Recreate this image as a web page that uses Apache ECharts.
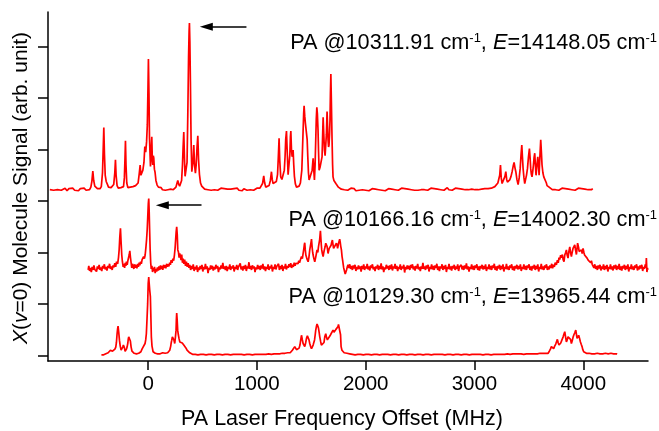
<!DOCTYPE html>
<html>
<head>
<meta charset="utf-8">
<script src="https://cdn.jsdelivr.net/npm/echarts@6/dist/echarts.min.js"></script>
<style>html,body{margin:0;padding:0;background:#fff}#c{width:659px;height:431px}</style>
</head>
<body>
<div id="c"></div>
<script>
// ---- Data (x: MHz offset, y: signal in arb. units incl. vertical offset) ----
const X_TICKS = [0, 1000, 2000, 3000, 4000];
const Y_TICKS = [0, 1, 2, 3, 4, 5, 6];
const PA_WAVENUMBERS = ['10311.91', '10166.16', '10129.30'];
const E_VALUES = ['14148.05', '14002.30', '13965.44'];
const X_NAME = 'PA Laser Frequency Offset (MHz)';
const Y_NAME = '{i|X}({i|v}=0) Molecule Signal (arb. unit)';
// arrows: [tailX, headX, y]
const ARROW_TOP = [904, 535, 6.39];
const ARROW_MID = [491, 131, 2.92];

const TOP = [[-903,3.22],[-885,3.25],[-868,3.21],[-850,3.24],[-833,3.22],[-815,3.25],[-798,3.21],[-780,3.23],[-763,3.25],[-745,3.20],[-728,3.24],[-710,3.22],[-693,3.25],[-675,3.21],[-658,3.23],[-640,3.20],[-623,3.24],[-605,3.22],[-588,3.25],[-570,3.21],[-553,3.24],[-538,3.22],[-526,3.27],[-517,3.38],[-508,3.58],[-500,3.40],[-490,3.29],[-478,3.27],[-466,3.24],[-454,3.26],[-442,3.24],[-430,3.28],[-419,3.55],[-412,4.05],[-407,4.43],[-401,3.90],[-394,3.50],[-385,3.38],[-375,3.33],[-364,3.27],[-352,3.24],[-340,3.26],[-328,3.24],[-316,3.32],[-306,3.55],[-300,3.80],[-294,3.50],[-285,3.30],[-274,3.25],[-262,3.23],[-250,3.26],[-238,3.24],[-226,3.28],[-218,3.45],[-212,3.85],[-208,4.17],[-203,3.70],[-196,3.35],[-186,3.26],[-175,3.25],[-163,3.27],[-151,3.25],[-139,3.28],[-127,3.27],[-115,3.30],[-103,3.29],[-92,3.35],[-82,3.52],[-73,3.70],[-66,3.50],[-58,3.48],[-48,3.60],[-38,3.75],[-30,4.06],[-22,3.95],[-14,4.15],[-7,4.48],[-1,5.20],[3,5.76],[8,5.10],[13,4.22],[18,3.90],[22,3.67],[28,3.95],[34,4.25],[39,3.80],[43,3.70],[48,3.88],[52,3.84],[58,3.62],[64,3.56],[72,3.40],[83,3.31],[95,3.27],[108,3.24],[120,3.26],[132,3.22],[145,3.25],[158,3.21],[170,3.24],[182,3.22],[195,3.25],[208,3.23],[220,3.24],[232,3.22],[244,3.25],[256,3.27],[265,3.34],[273,3.40],[281,3.33],[290,3.29],[299,3.31],[308,3.40],[316,3.70],[322,4.05],[328,4.34],[334,3.85],[340,3.48],[350,3.45],[358,3.75],[365,4.67],[372,5.80],[377,6.30],[380,6.46],[384,6.10],[389,5.32],[395,4.20],[402,3.57],[408,3.55],[414,3.80],[420,4.09],[427,3.70],[435,3.54],[442,3.70],[450,4.05],[457,4.27],[464,3.80],[472,3.52],[482,3.35],[493,3.29],[505,3.26],[520,3.23],[535,3.25],[550,3.22],[565,3.24],[580,3.21],[595,3.24],[610,3.22],[625,3.25],[640,3.21],[655,3.23],[670,3.25],[685,3.22],[700,3.24],[715,3.21],[730,3.23],[745,3.20],[760,3.23],[775,3.21],[790,3.24],[805,3.22],[820,3.25],[835,3.21],[850,3.23],[865,3.20],[880,3.24],[895,3.22],[910,3.21],[925,3.24],[940,3.22],[955,3.25],[970,3.21],[985,3.23],[1000,3.25],[1015,3.22],[1028,3.25],[1041,3.27],[1052,3.34],[1063,3.49],[1071,3.36],[1081,3.27],[1095,3.28],[1112,3.30],[1124,3.40],[1134,3.57],[1141,3.42],[1149,3.34],[1165,3.33],[1179,3.38],[1190,3.52],[1197,3.85],[1204,4.22],[1210,3.80],[1219,3.47],[1230,3.42],[1241,3.44],[1252,3.60],[1259,3.86],[1265,4.20],[1272,4.36],[1279,3.95],[1287,3.51],[1296,3.48],[1303,3.90],[1308,4.25],[1312,4.36],[1318,4.00],[1324,3.86],[1333,3.99],[1339,3.70],[1345,3.48],[1354,3.33],[1364,3.27],[1376,3.26],[1388,3.29],[1400,3.35],[1413,3.60],[1420,4.05],[1425,4.38],[1430,4.70],[1434,4.85],[1440,4.65],[1446,4.51],[1451,4.48],[1456,4.54],[1462,4.20],[1468,3.86],[1474,3.55],[1480,3.41],[1490,3.40],[1498,3.44],[1508,3.60],[1517,3.83],[1523,3.60],[1529,3.41],[1535,3.70],[1541,4.19],[1546,4.60],[1551,4.82],[1556,4.70],[1562,4.38],[1567,3.95],[1572,3.60],[1580,3.65],[1590,3.76],[1599,3.86],[1604,4.25],[1609,4.63],[1615,4.30],[1621,3.99],[1627,3.88],[1633,3.86],[1639,4.30],[1645,4.74],[1650,4.45],[1654,4.19],[1659,4.05],[1663,4.09],[1668,4.30],[1672,4.58],[1676,5.10],[1680,5.47],[1685,4.90],[1691,4.19],[1696,3.70],[1700,3.47],[1708,3.40],[1715,3.38],[1726,3.34],[1737,3.31],[1749,3.27],[1761,3.25],[1776,3.23],[1791,3.25],[1805,3.22],[1820,3.24],[1835,3.21],[1850,3.23],[1865,3.25],[1880,3.22],[1895,3.24],[1910,3.20],[1925,3.23],[1940,3.21],[1955,3.24],[1970,3.22],[1985,3.25],[2000,3.21],[2015,3.23],[2030,3.20],[2045,3.22],[2060,3.24],[2075,3.21],[2090,3.23],[2105,3.20],[2120,3.22],[2135,3.24],[2150,3.21],[2165,3.23],[2180,3.20],[2195,3.22],[2210,3.24],[2225,3.21],[2240,3.23],[2255,3.25],[2270,3.22],[2285,3.24],[2300,3.21],[2315,3.23],[2330,3.25],[2345,3.22],[2360,3.24],[2375,3.21],[2390,3.23],[2405,3.25],[2420,3.22],[2435,3.24],[2450,3.21],[2465,3.23],[2480,3.21],[2495,3.24],[2510,3.22],[2525,3.25],[2540,3.22],[2555,3.24],[2570,3.21],[2585,3.23],[2600,3.25],[2615,3.22],[2630,3.24],[2645,3.21],[2660,3.23],[2675,3.25],[2690,3.22],[2705,3.24],[2720,3.21],[2735,3.23],[2750,3.26],[2765,3.22],[2780,3.24],[2795,3.21],[2810,3.23],[2825,3.25],[2840,3.22],[2855,3.24],[2870,3.21],[2885,3.23],[2900,3.25],[2915,3.22],[2930,3.24],[2945,3.22],[2960,3.25],[2975,3.23],[2990,3.25],[3005,3.22],[3020,3.24],[3035,3.22],[3050,3.25],[3065,3.23],[3080,3.26],[3095,3.24],[3110,3.26],[3125,3.24],[3140,3.27],[3155,3.25],[3171,3.27],[3187,3.28],[3202,3.30],[3215,3.35],[3223,3.37],[3232,3.50],[3239,3.70],[3246,3.45],[3254,3.34],[3262,3.35],[3269,3.37],[3280,3.48],[3288,3.57],[3296,3.42],[3303,3.37],[3314,3.38],[3324,3.41],[3336,3.48],[3346,3.57],[3356,3.68],[3364,3.75],[3372,3.65],[3380,3.57],[3390,3.42],[3401,3.32],[3411,3.45],[3420,3.63],[3428,3.90],[3435,4.09],[3441,3.85],[3447,3.63],[3455,3.45],[3462,3.34],[3470,3.42],[3478,3.50],[3487,3.63],[3496,3.85],[3505,4.02],[3511,3.85],[3517,3.63],[3523,3.52],[3529,3.47],[3536,3.58],[3542,3.70],[3548,3.85],[3554,3.93],[3560,3.70],[3566,3.50],[3574,3.70],[3582,3.86],[3588,3.70],[3594,3.50],[3601,3.85],[3609,4.19],[3615,3.95],[3621,3.70],[3629,3.55],[3637,3.47],[3646,3.48],[3655,3.44],[3661,3.35],[3667,3.30],[3676,3.28],[3686,3.27],[3700,3.24],[3715,3.22],[3730,3.25],[3745,3.22],[3760,3.24],[3775,3.21],[3790,3.23],[3805,3.25],[3820,3.22],[3835,3.24],[3850,3.21],[3865,3.23],[3880,3.25],[3895,3.22],[3910,3.24],[3925,3.21],[3940,3.23],[3955,3.25],[3970,3.22],[3985,3.24],[4000,3.21],[4015,3.23],[4030,3.25],[4045,3.22],[4060,3.24],[4075,3.22],[4087,3.24]];

const MID = [[-551,1.66],[-545,1.74],[-538,1.64],[-530,1.70],[-522,1.62],[-514,1.72],[-506,1.66],[-498,1.75],[-490,1.67],[-482,1.70],[-474,1.63],[-466,1.73],[-458,1.68],[-450,1.76],[-442,1.66],[-434,1.71],[-426,1.64],[-418,1.74],[-410,1.69],[-402,1.77],[-394,1.67],[-386,1.72],[-378,1.65],[-370,1.74],[-362,1.70],[-354,1.78],[-346,1.68],[-338,1.73],[-330,1.66],[-322,1.75],[-314,1.71],[-306,1.79],[-298,1.72],[-290,1.82],[-280,1.78],[-272,1.90],[-266,2.05],[-260,2.30],[-254,2.47],[-248,2.20],[-242,1.95],[-236,1.82],[-229,1.72],[-223,1.78],[-216,1.70],[-210,1.80],[-204,1.74],[-199,1.82],[-192,1.76],[-186,1.84],[-181,1.86],[-174,1.95],[-168,2.03],[-162,1.90],[-156,1.80],[-150,1.70],[-144,1.78],[-138,1.74],[-131,1.68],[-124,1.77],[-117,1.70],[-110,1.76],[-103,1.69],[-96,1.78],[-89,1.72],[-82,1.80],[-76,1.75],[-69,1.82],[-62,1.78],[-55,1.86],[-48,1.83],[-41,1.92],[-34,1.88],[-27,1.95],[-20,2.10],[-14,2.25],[-8,2.45],[-3,2.70],[2,2.95],[6,3.05],[10,2.80],[14,2.45],[19,2.05],[24,1.80],[29,1.68],[35,1.74],[41,1.62],[47,1.70],[53,1.64],[59,1.72],[65,1.60],[72,1.68],[79,1.63],[86,1.71],[93,1.65],[100,1.73],[107,1.66],[114,1.75],[121,1.68],[128,1.74],[135,1.66],[142,1.76],[149,1.70],[156,1.75],[163,1.69],[170,1.78],[177,1.72],[184,1.77],[191,1.73],[198,1.80],[205,1.76],[212,1.85],[220,1.80],[228,1.88],[235,1.84],[242,1.95],[248,2.08],[253,2.24],[258,2.40],[263,2.50],[268,2.35],[273,2.05],[279,2.01],[285,1.90],[291,1.98],[297,1.92],[303,1.85],[309,1.96],[316,1.80],[322,1.88],[329,1.78],[336,1.86],[344,1.74],[352,1.82],[360,1.72],[368,1.79],[376,1.70],[383,1.76],[391,1.66],[399,1.74],[407,1.68],[415,1.77],[423,1.64],[431,1.72],[439,1.67],[447,1.75],[455,1.62],[463,1.71],[471,1.66],[479,1.74],[487,1.68],[495,1.76],[503,1.63],[511,1.72],[519,1.67],[527,1.78],[535,1.68],[543,1.73],[551,1.60],[559,1.70],[567,1.66],[575,1.75],[583,1.68],[591,1.74],[599,1.65],[607,1.72],[615,1.67],[623,1.76],[631,1.69],[639,1.74],[647,1.62],[655,1.71],[663,1.67],[671,1.75],[679,1.69],[687,1.80],[695,1.68],[703,1.73],[711,1.66],[719,1.74],[727,1.64],[735,1.72],[743,1.68],[751,1.77],[759,1.66],[767,1.73],[775,1.69],[783,1.75],[791,1.63],[799,1.72],[807,1.68],[815,1.76],[823,1.66],[831,1.72],[839,1.69],[847,1.79],[855,1.67],[863,1.73],[871,1.65],[879,1.74],[887,1.68],[895,1.76],[903,1.64],[911,1.73],[919,1.69],[927,1.81],[935,1.68],[943,1.74],[951,1.66],[959,1.75],[967,1.69],[975,1.73],[983,1.62],[991,1.71],[999,1.67],[1007,1.76],[1015,1.68],[1023,1.74],[1031,1.66],[1039,1.75],[1047,1.69],[1055,1.78],[1063,1.67],[1071,1.73],[1079,1.64],[1087,1.72],[1095,1.68],[1103,1.77],[1111,1.66],[1119,1.73],[1127,1.69],[1135,1.76],[1143,1.63],[1151,1.72],[1159,1.68],[1167,1.77],[1175,1.67],[1183,1.73],[1191,1.70],[1199,1.78],[1207,1.66],[1215,1.74],[1223,1.68],[1231,1.76],[1239,1.64],[1247,1.73],[1255,1.69],[1263,1.78],[1271,1.67],[1279,1.74],[1287,1.70],[1295,1.77],[1303,1.72],[1311,1.79],[1319,1.70],[1327,1.76],[1335,1.72],[1343,1.80],[1351,1.74],[1358,1.79],[1364,1.76],[1371,1.82],[1378,1.78],[1385,1.84],[1392,1.80],[1400,1.86],[1410,1.92],[1418,1.88],[1425,1.98],[1432,2.08],[1436,2.15],[1440,2.19],[1445,2.05],[1450,1.95],[1456,1.92],[1463,1.86],[1471,1.82],[1478,1.90],[1486,2.05],[1494,2.15],[1498,2.20],[1502,2.26],[1508,2.10],[1513,2.00],[1517,1.95],[1524,1.88],[1532,1.82],[1540,1.90],[1547,1.98],[1553,2.05],[1560,2.00],[1566,2.11],[1572,2.11],[1577,2.25],[1581,2.35],[1584,2.42],[1588,2.28],[1592,2.15],[1596,2.05],[1602,1.98],[1609,1.92],[1615,2.00],[1621,2.06],[1627,2.11],[1633,2.18],[1639,2.21],[1645,2.12],[1650,2.05],[1654,1.98],[1660,2.04],[1665,2.08],[1670,2.11],[1676,2.05],[1682,2.14],[1688,2.20],[1694,2.24],[1700,2.15],[1705,2.08],[1709,2.05],[1715,2.12],[1721,2.15],[1726,2.10],[1731,2.18],[1737,2.14],[1742,2.08],[1746,2.11],[1751,2.18],[1756,2.22],[1761,2.26],[1766,2.20],[1771,2.12],[1777,2.05],[1783,1.92],[1788,1.85],[1792,1.79],[1798,1.70],[1805,1.64],[1812,1.58],[1817,1.56],[1824,1.66],[1831,1.72],[1838,1.76],[1846,1.70],[1854,1.77],[1862,1.68],[1870,1.74],[1878,1.66],[1886,1.75],[1894,1.69],[1902,1.76],[1910,1.64],[1918,1.72],[1926,1.67],[1934,1.75],[1942,1.68],[1950,1.73],[1958,1.63],[1966,1.74],[1974,1.68],[1982,1.77],[1990,1.66],[1998,1.73],[2006,1.69],[2014,1.78],[2022,1.67],[2030,1.73],[2038,1.65],[2046,1.75],[2054,1.70],[2062,1.77],[2070,1.67],[2078,1.72],[2086,1.64],[2094,1.73],[2102,1.69],[2110,1.76],[2118,1.66],[2126,1.74],[2134,1.68],[2142,1.79],[2150,1.67],[2158,1.73],[2166,1.62],[2174,1.71],[2182,1.67],[2190,1.76],[2198,1.69],[2206,1.74],[2214,1.66],[2222,1.75],[2230,1.68],[2238,1.77],[2246,1.65],[2254,1.73],[2262,1.69],[2270,1.78],[2278,1.68],[2286,1.74],[2294,1.64],[2302,1.72],[2310,1.68],[2318,1.77],[2326,1.66],[2334,1.73],[2342,1.69],[2350,1.76],[2358,1.61],[2366,1.72],[2374,1.67],[2382,1.75],[2390,1.68],[2398,1.74],[2406,1.66],[2414,1.76],[2422,1.70],[2430,1.77],[2438,1.67],[2446,1.73],[2454,1.65],[2462,1.74],[2470,1.69],[2478,1.78],[2486,1.67],[2494,1.72],[2502,1.64],[2510,1.73],[2518,1.68],[2526,1.80],[2534,1.68],[2542,1.73],[2550,1.66],[2558,1.75],[2566,1.69],[2574,1.76],[2582,1.63],[2590,1.72],[2598,1.68],[2606,1.77],[2614,1.67],[2622,1.74],[2630,1.66],[2638,1.75],[2646,1.70],[2654,1.78],[2662,1.66],[2670,1.73],[2678,1.64],[2686,1.73],[2694,1.69],[2702,1.77],[2710,1.66],[2718,1.74],[2726,1.68],[2734,1.76],[2742,1.62],[2750,1.72],[2758,1.68],[2766,1.78],[2774,1.67],[2782,1.73],[2790,1.65],[2798,1.74],[2806,1.69],[2814,1.76],[2822,1.66],[2830,1.73],[2838,1.68],[2846,1.77],[2854,1.64],[2862,1.72],[2870,1.69],[2878,1.76],[2886,1.67],[2894,1.74],[2902,1.66],[2910,1.75],[2918,1.69],[2926,1.79],[2934,1.67],[2942,1.73],[2950,1.63],[2958,1.72],[2966,1.68],[2974,1.77],[2982,1.67],[2990,1.74],[2998,1.66],[3006,1.75],[3014,1.70],[3022,1.77],[3030,1.66],[3038,1.73],[3046,1.65],[3054,1.74],[3062,1.69],[3070,1.76],[3078,1.67],[3086,1.74],[3094,1.68],[3102,1.77],[3110,1.64],[3118,1.72],[3126,1.68],[3134,1.77],[3142,1.67],[3150,1.74],[3158,1.66],[3166,1.75],[3174,1.70],[3182,1.78],[3190,1.66],[3198,1.73],[3206,1.65],[3214,1.74],[3222,1.69],[3230,1.76],[3238,1.66],[3246,1.74],[3254,1.68],[3262,1.77],[3270,1.63],[3278,1.72],[3286,1.68],[3294,1.78],[3302,1.67],[3310,1.73],[3318,1.66],[3326,1.75],[3334,1.70],[3342,1.77],[3350,1.66],[3358,1.73],[3366,1.65],[3374,1.74],[3382,1.69],[3390,1.76],[3398,1.67],[3406,1.74],[3414,1.68],[3422,1.77],[3430,1.64],[3438,1.72],[3446,1.68],[3454,1.77],[3462,1.67],[3470,1.74],[3478,1.66],[3486,1.75],[3494,1.70],[3502,1.77],[3510,1.66],[3518,1.73],[3526,1.65],[3534,1.74],[3542,1.69],[3550,1.76],[3558,1.66],[3566,1.74],[3574,1.68],[3582,1.77],[3590,1.63],[3598,1.72],[3606,1.68],[3614,1.78],[3622,1.67],[3630,1.73],[3638,1.66],[3646,1.75],[3654,1.70],[3662,1.77],[3670,1.66],[3678,1.73],[3686,1.67],[3694,1.75],[3702,1.70],[3710,1.78],[3718,1.69],[3726,1.76],[3734,1.72],[3742,1.80],[3753,1.76],[3762,1.85],[3770,1.80],[3777,1.90],[3784,1.86],[3792,1.95],[3800,1.90],[3808,1.96],[3815,1.86],[3823,1.82],[3830,1.95],[3838,2.00],[3845,2.05],[3852,1.95],[3860,1.89],[3868,2.02],[3876,2.11],[3883,2.00],[3891,1.92],[3898,2.00],[3906,2.08],[3914,2.10],[3922,2.15],[3929,2.05],[3937,1.96],[3944,2.10],[3948,2.18],[3952,2.21],[3957,2.10],[3962,2.02],[3968,1.99],[3975,2.04],[3983,2.05],[3990,1.98],[3998,2.08],[4006,2.00],[4012,1.95],[4017,1.92],[4025,1.96],[4035,1.89],[4045,1.85],[4052,1.88],[4060,1.82],[4068,1.80],[4075,1.84],[4082,1.77],[4090,1.76],[4098,1.70],[4106,1.77],[4114,1.68],[4122,1.74],[4130,1.66],[4138,1.75],[4146,1.69],[4154,1.76],[4162,1.65],[4170,1.73],[4178,1.68],[4186,1.77],[4194,1.66],[4202,1.74],[4210,1.68],[4218,1.76],[4226,1.63],[4234,1.72],[4242,1.68],[4250,1.77],[4258,1.67],[4266,1.73],[4274,1.65],[4282,1.75],[4290,1.69],[4298,1.76],[4306,1.66],[4314,1.74],[4322,1.68],[4330,1.78],[4338,1.66],[4346,1.73],[4354,1.65],[4362,1.74],[4370,1.69],[4378,1.76],[4386,1.66],[4394,1.74],[4402,1.68],[4410,1.77],[4418,1.63],[4426,1.72],[4434,1.68],[4442,1.77],[4450,1.67],[4458,1.73],[4466,1.66],[4474,1.75],[4482,1.70],[4490,1.77],[4498,1.65],[4506,1.73],[4514,1.67],[4522,1.75],[4530,1.69],[4538,1.76],[4546,1.64],[4554,1.72],[4562,1.68],[4570,1.77],[4576,1.70],[4580,1.89],[4585,1.62],[4590,1.70],[4593,1.66]];

const BOT = [[-429,0.01],[-418,0.03],[-408,0.01],[-398,0.04],[-388,0.03],[-377,0.05],[-367,0.05],[-356,0.07],[-346,0.10],[-340,0.12],[-334,0.13],[-327,0.08],[-321,0.05],[-313,0.08],[-305,0.12],[-297,0.16],[-291,0.25],[-285,0.42],[-280,0.52],[-276,0.57],[-270,0.45],[-263,0.29],[-256,0.18],[-248,0.10],[-240,0.13],[-233,0.16],[-227,0.20],[-223,0.21],[-218,0.15],[-211,0.08],[-204,0.10],[-199,0.12],[-193,0.16],[-186,0.24],[-182,0.32],[-178,0.36],[-173,0.38],[-168,0.39],[-163,0.28],[-156,0.16],[-148,0.08],[-138,0.05],[-128,0.04],[-117,0.03],[-107,0.03],[-97,0.05],[-86,0.04],[-76,0.04],[-66,0.07],[-56,0.12],[-46,0.16],[-37,0.18],[-28,0.23],[-22,0.30],[-16,0.42],[-10,0.70],[-4,1.00],[1,1.40],[6,1.52],[10,1.40],[15,1.27],[21,1.14],[25,0.80],[30,0.36],[36,0.18],[46,0.07],[56,0.05],[66,0.04],[76,0.04],[88,0.03],[100,0.05],[111,0.03],[122,0.03],[134,0.05],[145,0.03],[157,0.04],[168,0.04],[180,0.05],[190,0.07],[199,0.10],[208,0.18],[213,0.25],[217,0.29],[223,0.36],[230,0.39],[237,0.30],[245,0.23],[251,0.35],[257,0.49],[260,0.70],[263,0.82],[267,0.70],[272,0.49],[278,0.40],[285,0.32],[292,0.26],[300,0.23],[307,0.28],[314,0.24],[321,0.26],[328,0.20],[334,0.22],[340,0.19],[349,0.14],[358,0.10],[370,0.07],[383,0.05],[395,0.03],[408,0.02],[420,0.04],[433,0.02],[445,0.03],[458,0.01],[470,0.03],[483,0.02],[495,0.04],[508,0.02],[520,0.03],[533,0.01],[545,0.03],[558,0.02],[570,0.04],[583,0.02],[595,0.03],[608,0.01],[620,0.03],[633,0.02],[645,0.04],[658,0.02],[670,0.03],[683,0.01],[695,0.03],[708,0.02],[720,0.04],[733,0.02],[745,0.03],[758,0.01],[770,0.03],[783,0.02],[795,0.04],[808,0.02],[820,0.03],[833,0.02],[845,0.04],[858,0.02],[870,0.03],[883,0.01],[895,0.03],[908,0.02],[920,0.04],[933,0.02],[945,0.03],[958,0.01],[970,0.03],[983,0.02],[995,0.04],[1008,0.02],[1020,0.03],[1033,0.02],[1045,0.04],[1058,0.02],[1070,0.03],[1083,0.02],[1095,0.04],[1108,0.03],[1120,0.04],[1133,0.02],[1145,0.04],[1158,0.03],[1170,0.04],[1183,0.03],[1195,0.05],[1208,0.03],[1220,0.05],[1233,0.04],[1245,0.06],[1258,0.04],[1270,0.06],[1283,0.05],[1295,0.06],[1306,0.05],[1317,0.07],[1326,0.10],[1333,0.09],[1341,0.12],[1348,0.17],[1356,0.14],[1364,0.11],[1372,0.10],[1379,0.10],[1388,0.14],[1396,0.20],[1403,0.30],[1410,0.39],[1418,0.30],[1425,0.23],[1433,0.20],[1440,0.17],[1448,0.24],[1456,0.33],[1464,0.38],[1471,0.36],[1479,0.30],[1486,0.23],[1494,0.17],[1502,0.13],[1510,0.16],[1517,0.20],[1523,0.23],[1530,0.30],[1536,0.40],[1541,0.49],[1547,0.56],[1553,0.61],[1560,0.57],[1566,0.53],[1572,0.45],[1578,0.36],[1586,0.27],[1593,0.20],[1601,0.17],[1609,0.17],[1617,0.25],[1624,0.36],[1633,0.42],[1640,0.35],[1648,0.30],[1656,0.31],[1664,0.33],[1672,0.38],[1682,0.42],[1690,0.44],[1700,0.49],[1709,0.45],[1718,0.46],[1725,0.50],[1731,0.53],[1739,0.52],[1746,0.56],[1750,0.60],[1755,0.63],[1760,0.57],[1765,0.61],[1769,0.40],[1774,0.17],[1782,0.10],[1792,0.07],[1802,0.05],[1815,0.03],[1828,0.04],[1840,0.02],[1853,0.03],[1865,0.04],[1878,0.02],[1890,0.03],[1903,0.01],[1915,0.03],[1928,0.02],[1940,0.04],[1953,0.02],[1965,0.03],[1978,0.01],[1990,0.03],[2003,0.02],[2015,0.04],[2028,0.02],[2040,0.03],[2053,0.01],[2065,0.03],[2078,0.02],[2090,0.04],[2103,0.02],[2115,0.03],[2128,0.01],[2140,0.03],[2153,0.02],[2165,0.04],[2178,0.02],[2190,0.03],[2203,0.02],[2215,0.04],[2228,0.01],[2240,0.03],[2253,0.02],[2265,0.04],[2278,0.02],[2290,0.03],[2303,0.01],[2315,0.03],[2328,0.02],[2340,0.04],[2353,0.02],[2365,0.03],[2378,0.01],[2390,0.03],[2403,0.02],[2415,0.04],[2428,0.02],[2440,0.03],[2453,0.01],[2465,0.03],[2478,0.02],[2490,0.04],[2503,0.02],[2515,0.03],[2528,0.01],[2540,0.03],[2553,0.02],[2565,0.04],[2578,0.02],[2590,0.03],[2603,0.01],[2615,0.03],[2628,0.02],[2640,0.04],[2653,0.02],[2665,0.03],[2678,0.02],[2690,0.04],[2703,0.02],[2715,0.03],[2728,0.01],[2740,0.03],[2753,0.02],[2765,0.04],[2778,0.02],[2790,0.03],[2803,0.01],[2815,0.03],[2828,0.02],[2840,0.04],[2853,0.02],[2865,0.03],[2878,0.01],[2890,0.03],[2903,0.02],[2915,0.04],[2928,0.02],[2940,0.03],[2953,0.01],[2965,0.03],[2978,0.02],[2990,0.04],[3003,0.02],[3015,0.03],[3028,0.02],[3040,0.04],[3053,0.02],[3065,0.03],[3078,0.01],[3090,0.03],[3103,0.02],[3115,0.04],[3128,0.02],[3140,0.03],[3153,0.01],[3165,0.03],[3178,0.02],[3190,0.04],[3203,0.02],[3215,0.03],[3228,0.02],[3240,0.04],[3253,0.02],[3265,0.03],[3278,0.02],[3290,0.04],[3303,0.03],[3315,0.04],[3328,0.02],[3340,0.04],[3353,0.03],[3365,0.05],[3378,0.03],[3390,0.04],[3403,0.03],[3415,0.05],[3428,0.03],[3440,0.04],[3453,0.02],[3465,0.04],[3478,0.03],[3490,0.05],[3503,0.03],[3515,0.04],[3528,0.03],[3540,0.05],[3553,0.03],[3565,0.04],[3578,0.03],[3590,0.05],[3603,0.04],[3615,0.05],[3628,0.04],[3640,0.06],[3652,0.04],[3665,0.05],[3677,0.04],[3688,0.08],[3698,0.12],[3707,0.17],[3716,0.17],[3722,0.14],[3728,0.13],[3737,0.18],[3747,0.22],[3755,0.27],[3762,0.31],[3770,0.24],[3777,0.20],[3785,0.22],[3793,0.24],[3804,0.30],[3815,0.36],[3822,0.41],[3830,0.46],[3838,0.35],[3845,0.26],[3852,0.30],[3860,0.36],[3868,0.38],[3876,0.39],[3883,0.31],[3891,0.23],[3899,0.29],[3906,0.35],[3914,0.40],[3922,0.44],[3927,0.47],[3931,0.49],[3937,0.41],[3943,0.33],[3950,0.36],[3958,0.39],[3966,0.33],[3974,0.26],[3982,0.21],[3989,0.17],[3996,0.11],[4004,0.07],[4016,0.05],[4029,0.04],[4041,0.02],[4054,0.04],[4066,0.02],[4079,0.03],[4091,0.01],[4104,0.03],[4116,0.02],[4129,0.04],[4141,0.02],[4154,0.03],[4166,0.01],[4179,0.03],[4191,0.02],[4204,0.04],[4216,0.02],[4229,0.03],[4241,0.02],[4254,0.04],[4266,0.02],[4279,0.03],[4291,0.01],[4303,0.03],[4311,0.02]];

// ---- Chart ----
const FONT = '"Liberation Sans", Arial, Helvetica, sans-serif';
const FS = 21.7;
const LABEL_Y = [43, 220, 297];
const chart = echarts.init(document.getElementById('c'), null, {renderer: 'canvas'});

function paText(i) {
  return 'PA @' + PA_WAVENUMBERS[i] + ' cm{sup|-1}, {it|E}=' + E_VALUES[i] + ' cm{sup|-1}';
}
const richLabel = {
  sup: {fontSize: 13, fontFamily: FONT, verticalAlign: 'top', fill: '#000', color: '#000'},
  it: {fontSize: FS, fontFamily: FONT, fontStyle: 'italic', fill: '#000', color: '#000'}
};

function arrowLine(a) {
  return {
    silent: true, animation: false,
    symbol: ['none', 'triangle'], symbolSize: [8, 13],
    label: {show: false},
    lineStyle: {color: '#000', width: 1.5, type: 'solid'},
    emphasis: {disabled: true},
    data: [[{coord: [a[0], a[2]]}, {coord: [a[1], a[2]]}]]
  };
}

const lineStyle = {color: '#ff0000', width: 1.7};
const option = {
  animation: false,
  backgroundColor: '#fff',
  grid: {left: 48, right: 11, top: 12, bottom: 70, containLabel: false, outerBoundsMode: 'none'},
  xAxis: {
    type: 'value', min: -920, max: 4595,
    name: X_NAME, nameLocation: 'middle', nameGap: 47,
    nameTextStyle: {fontSize: 21.5, fontFamily: FONT, color: '#000', padding: [0, 12, 0, 0]},
    axisLine: {show: true, onZero: false, lineStyle: {color: '#000', width: 1.5}},
    axisTick: {show: true, length: 9, inside: false, customValues: X_TICKS, lineStyle: {color: '#000', width: 1.5}},
    axisLabel: {show: true, customValues: X_TICKS, fontSize: 20.5, fontFamily: FONT, color: '#000', margin: 13,
      formatter: function (v) { return String(v); }},
    splitLine: {show: false}
  },
  yAxis: {
    type: 'value', min: -0.11, max: 6.675,
    name: Y_NAME, nameLocation: 'middle', nameRotate: 90, nameGap: 16,
    nameTextStyle: {fontSize: 21, fontFamily: FONT, color: '#000', padding: [0, 3, 0, 0],
      rich: {i: {fontSize: 21, fontFamily: FONT, fontStyle: 'italic', color: '#000'}}},
    axisLine: {show: true, onZero: false, lineStyle: {color: '#000', width: 1.5}},
    axisTick: {show: true, length: 10, inside: false, customValues: Y_TICKS, lineStyle: {color: '#000', width: 1.5}},
    axisLabel: {show: false},
    splitLine: {show: false}
  },
  series: [
    {name: 'PA @10311.91', type: 'line', data: TOP, showSymbol: false, symbol: 'none', lineStyle: lineStyle, markLine: arrowLine(ARROW_TOP)},
    {name: 'PA @10166.16', type: 'line', data: MID, showSymbol: false, symbol: 'none', lineStyle: lineStyle, markLine: arrowLine(ARROW_MID)},
    {name: 'PA @10129.30', type: 'line', data: BOT, showSymbol: false, symbol: 'none', lineStyle: lineStyle}
  ],
  graphic: LABEL_Y.map(function (y, i) {
    return {
      type: 'text', x: 657, y: y, silent: true,
      style: {text: paText(i), rich: richLabel, fontSize: FS, fontFamily: FONT, fill: '#000',
        align: 'right', verticalAlign: 'middle'}
    };
  })
};
chart.setOption(option);
</script>
</body>
</html>
